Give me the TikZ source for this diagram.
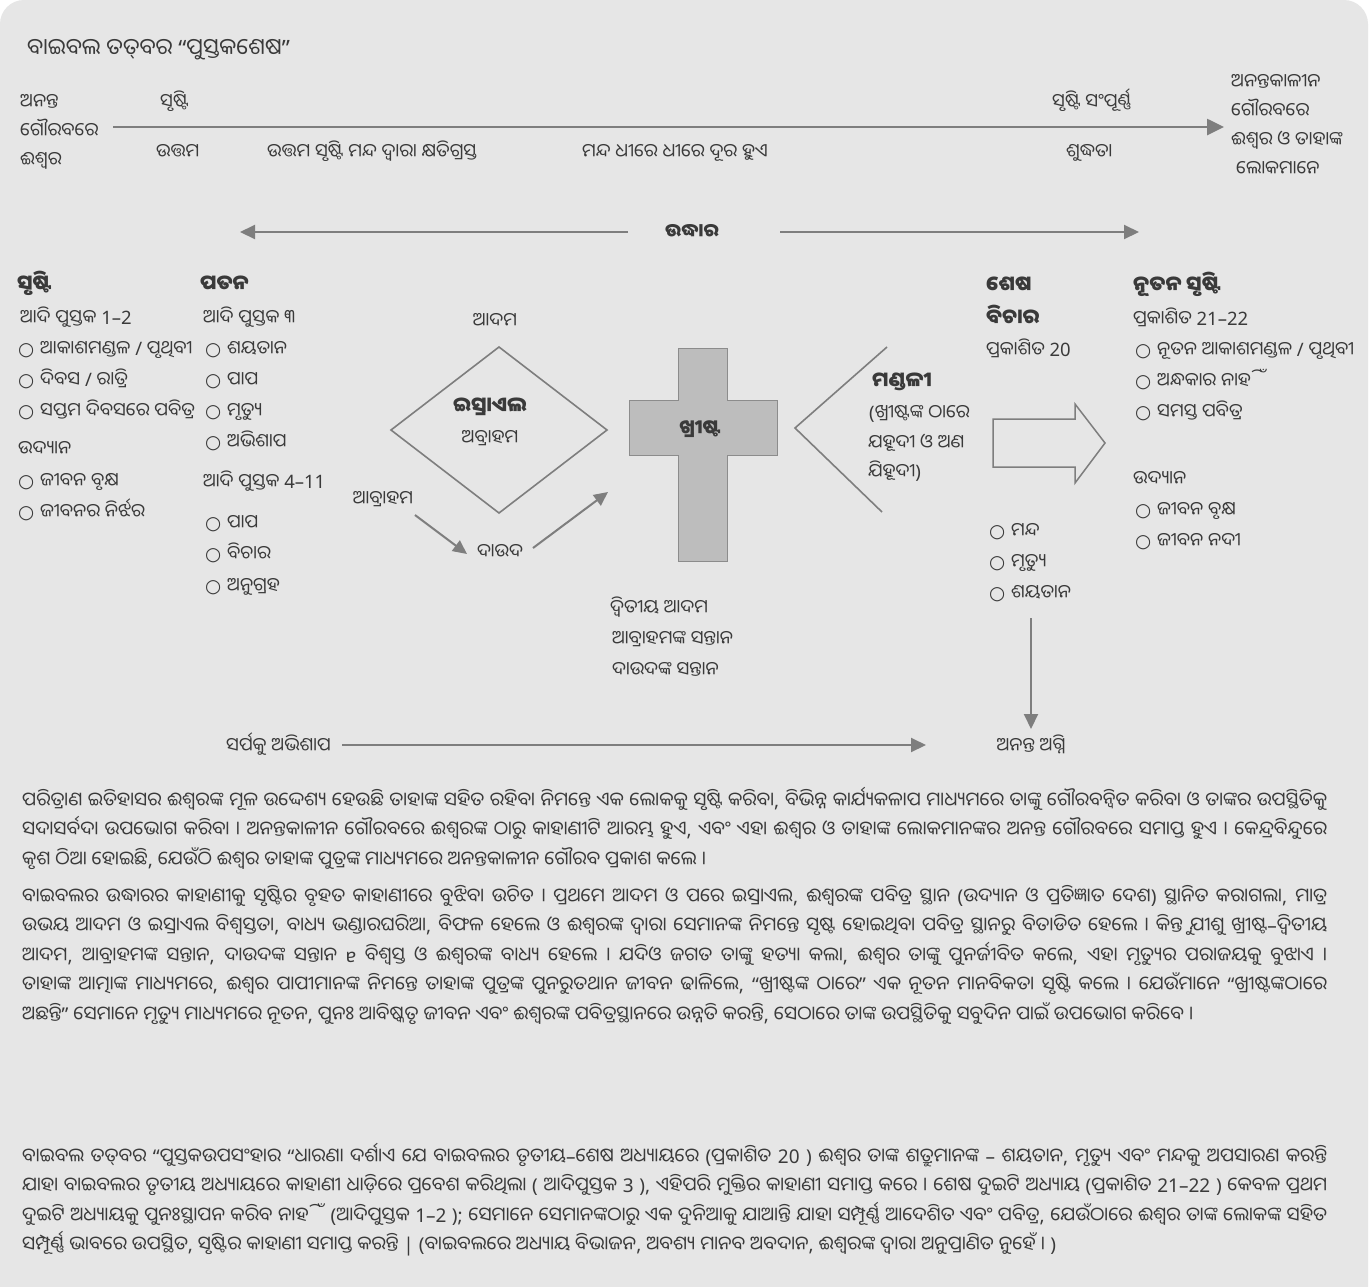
\documentclass[tikz,border=0pt]{standalone}
\usepackage{fontspec}
\usetikzlibrary{arrows.meta}
\setmainfont{Noto Sans}
\newfontfamily\odia[Script=Oriya]{Noto Sans Oriya UI}
\newfontfamily\lat{Noto Sans}
\newfontfamily\dejavu{DejaVu Sans}
\XeTeXinterchartokenstate=1
\newXeTeXintercharclass\OdiaClass
\newXeTeXintercharclass\BulClass
\newcount\odc
\odc="0B00
\loop
  \XeTeXcharclass\odc=\OdiaClass
  \ifnum\odc<"0B7F \advance\odc by 1
\repeat
\XeTeXcharclass"0964=\OdiaClass
\XeTeXcharclass"0965=\OdiaClass
\XeTeXcharclass"200C=\OdiaClass
\XeTeXcharclass"200D=\OdiaClass
\XeTeXcharclass"25CB=\BulClass
\XeTeXinterchartoks 0 \OdiaClass = {\odia}
\XeTeXinterchartoks 4095 \OdiaClass = {\odia}
\XeTeXinterchartoks \OdiaClass 0 = {\lat}
\XeTeXinterchartoks 4095 0 = {\lat}
\XeTeXinterchartoks 4095 \BulClass = {\dejavu}
\XeTeXinterchartoks 0 \BulClass = {\dejavu}
\XeTeXinterchartoks \OdiaClass \BulClass = {\dejavu}
\XeTeXinterchartoks \BulClass 0 = {\lat}
\XeTeXinterchartoks \BulClass \OdiaClass = {\odia}
\definecolor{txt}{HTML}{3A3A3A}
\definecolor{ln}{HTML}{7E7E7E}
\definecolor{bg}{HTML}{E6E6E6}
\definecolor{crossfill}{HTML}{BDBDBD}
\definecolor{crossedge}{HTML}{8C8C8C}
\tikzset{
  lbl/.style={anchor=base west, inner sep=0pt, text=txt, font=\fontsize{18.5}{22}\selectfont},
  lblc/.style={lbl, anchor=base},
  hd/.style={lbl, font=\fontsize{20.5}{24}\selectfont\bfseries},
  hdc/.style={hd, anchor=base},
  arr/.style={draw=ln, line width=2pt, -{Triangle[length=15pt,width=14pt]}},
  shapeline/.style={draw=ln, line width=1.6pt, line join=miter},
  para/.style={anchor=base west, inner sep=0pt, text=txt, text width=1305pt, align=justify, font=\fontsize{19}{29.6}\selectfont},
}
\begin{document}
\begin{tikzpicture}[x=1pt,y=-1pt]
\useasboundingbox (0,0) rectangle (1369,1286);
\fill[white] (0,0) rectangle (1369,1286);
\fill[bg, rounded corners=24pt] (0,0) rectangle (1368,1330);

% title
\node[lbl, font=\fontsize{22.5}{26}\selectfont] (title) at (27,56) {ବାଇବଲ ତତ୍^^^^200cବର “ପୁସ୍ତକଶେଷ”};

% timeline
\node[lbl] (tl1) at (20,108) {ଅନନ୍ତ};
\node[lbl] (tl2) at (20,137) {ଗୌରବରେ};
\node[lbl] (tl3) at (20,166) {ଈଶ୍ୱର};
\node[lbl] (cre) at (160,108) {ସୃଷ୍ଟି};
\node[lbl] (good) at (156,158) {ଉତ୍ତମ};
\node[lbl] (damaged) at (267,158) {ଉତ୍ତମ ସୃଷ୍ଟି ମନ୍ଦ ଦ୍ୱାରା କ୍ଷତିଗ୍ରସ୍ତ};
\node[lbl] (removed) at (582,158) {ମନ୍ଦ ଧୀରେ ଧୀରେ ଦୂର ହୁଏ};
\node[lbl] (complete) at (1052,108) {ସୃଷ୍ଟି ସଂପୂର୍ଣ୍ଣ};
\node[lbl] (purity) at (1066,158) {ଶୁଦ୍ଧତା};
\node[lbl] (tr1) at (1231,88) {ଅନନ୍ତକାଳୀନ};
\node[lbl] (tr2) at (1231,117) {ଗୌରବରେ};
\node[lbl] (tr3) at (1231,146) {ଈଶ୍ୱର ଓ ତାହାଙ୍କ};
\node[lbl] (tr4) at (1236,175) {ଲୋକମାନେ};
\coordinate (tlA) at (113,127);
\coordinate (tlB) at (1224,127);
\draw[arr, line width=2.6pt, -{Triangle[length=17pt,width=16pt]}] (tlA) -- (tlB);

% redemption
\node[hdc, font=\fontsize{18.5}{22}\selectfont\bfseries] (red) at (692,238) {ଉଦ୍ଧାର};
\coordinate (redL) at (240,232);
\coordinate (redR) at (1139,232);
\coordinate (redLs) at (628,232);
\coordinate (redRs) at (780,232);
\draw[arr] (redLs) -- (redL);
\draw[arr] (redRs) -- (redR);

% creation column
\node[hd] (h1) at (17,291) {ସୃଷ୍ଟି};
\node[lbl] (c1) at (20,324) {ଆଦି ପୁସ୍ତକ 1–2};
\node[lbl] (c2) at (18,355) {○ ଆକାଶମଣ୍ଡଳ / ପୃଥିବୀ};
\node[lbl] (c3) at (18,386) {○ ଦିବସ / ରାତ୍ରି};
\node[lbl] (c4) at (18,417) {○ ସପ୍ତମ ଦିବସରେ ପବିତ୍ର};
\node[lbl] (c5) at (18,455) {ଉଦ୍ୟାନ};
\node[lbl] (c6) at (18,487) {○ ଜୀବନ ବୃକ୍ଷ};
\node[lbl] (c7) at (18,518) {○ ଜୀବନର ନିର୍ଝର};

% fall column
\node[hd] (h2) at (200,291) {ପତନ};
\node[lbl] (f1) at (203,324) {ଆଦି ପୁସ୍ତକ ୩};
\node[lbl] (f2) at (205,355) {○ ଶୟତାନ};
\node[lbl] (f3) at (205,386) {○ ପାପ};
\node[lbl] (f4) at (205,417) {○ ମୃତ୍ୟୁ};
\node[lbl] (f5) at (205,448) {○ ଅଭିଶାପ};
\node[lbl] (f6) at (203,488) {ଆଦି ପୁସ୍ତକ 4–11};
\node[lbl] (f7) at (205,529) {○ ପାପ};
\node[lbl] (f8) at (205,560) {○ ବିଚାର};
\node[lbl] (f9) at (205,592) {○ ଅନୁଗ୍ରହ};

% israel diamond
\node[lblc] (adam) at (495,327) {ଆଦମ};
\draw[shapeline] (499,347) -- (607,430) -- (499,513) -- (391,430) -- cycle;
\node[hdc] (isr) at (490,413) {ଇସ୍ରାଏଲ};
\node[lblc] (abr1) at (490,444) {ଅବ୍ରାହମ};
\node[lblc] (abr2) at (383,505) {ଆବ୍ରାହମ};
\node[lblc] (dav) at (500,558) {ଦାଉଦ};
\coordinate (a1s) at (415,515);
\coordinate (a1e) at (467,554);
\coordinate (a2s) at (533,548);
\coordinate (a2e) at (608,492);
\draw[arr, -{Triangle[length=14pt,width=13pt]}] (a1s) -- (a1e);
\draw[arr, -{Triangle[length=14pt,width=13pt]}] (a2s) -- (a2e);

% cross
\draw[fill=crossfill, draw=crossedge, line width=1pt] (678,348) -- (727,348) -- (727,400) -- (777,400) -- (777,455) -- (727,455) -- (727,561) -- (678,561) -- (678,455) -- (629,455) -- (629,400) -- (678,400) -- cycle;
\node[hdc, font=\fontsize{19.5}{23}\selectfont\bfseries] (christ) at (700,435) {ଖ୍ରୀଷ୍ଟ};
\node[lbl] (x1) at (610,614) {ଦ୍ୱିତୀୟ ଆଦମ};
\node[lbl] (x2) at (612,645) {ଆବ୍ରାହମଙ୍କ ସନ୍ତାନ};
\node[lbl] (x3) at (612,676) {ଦାଉଦଙ୍କ ସନ୍ତାନ};

% church chevron
\draw[shapeline] (887,347) -- (795,428) -- (882,512);
\node[hd] (church) at (872,388) {ମଣ୍ଡଳୀ};
\node[lbl] (ch1) at (869,419) {(ଖ୍ରୀଷ୍ଟଙ୍କ ଠାରେ};
\node[lbl] (ch2) at (868,449) {ଯହୂଦୀ ଓ ଅଣ};
\node[lbl] (ch3) at (868,478) {ଯିହୂଦୀ)};

% final judgment
\node[hd] (j1) at (986,292) {ଶେଷ};
\node[hd] (j2) at (986,325) {ବିଚାର};
\node[lbl] (j3) at (986,356) {ପ୍ରକାଶିତ 20};
\node[lbl] (e1) at (989,537) {○ ମନ୍ଦ};
\node[lbl] (e2) at (989,568) {○ ମୃତ୍ୟୁ};
\node[lbl] (e3) at (989,599) {○ ଶୟତାନ};

% block arrow
\draw[shapeline, line width=1.5pt] (993,419) -- (1075,419) -- (1075,404) -- (1105,443) -- (1075,483) -- (1075,467) -- (993,467) -- cycle;

% new creation
\node[hd] (n0) at (1133,292) {ନୂତନ ସୃଷ୍ଟି};
\node[lbl] (n1) at (1133,325) {ପ୍ରକାଶିତ 21–22};
\node[lbl] (n2) at (1135,356) {○ ନୂତନ ଆକାଶମଣ୍ଡଳ / ପୃଥିବୀ};
\node[lbl] (n3) at (1135,387) {○ ଅନ୍ଧକାର ନାହିଁ};
\node[lbl] (n4) at (1135,418) {○ ସମସ୍ତ ପବିତ୍ର};
\node[lbl] (n5) at (1133,485) {ଉଦ୍ୟାନ};
\node[lbl] (n6) at (1135,516) {○ ଜୀବନ ବୃକ୍ଷ};
\node[lbl] (n7) at (1135,547) {○ ଜୀବନ ନଦୀ};

% bottom
\node[lblc] (fire) at (1031,752) {ଅନନ୍ତ ଅଗ୍ନି};
\node[lbl] (curse) at (226,752) {ସର୍ପକୁ ଅଭିଶାପ};
\coordinate (dA) at (1031,618);
\coordinate (dB) at (1031,729);
\draw[arr] (dA) -- (dB);
\coordinate (bA) at (342,745);
\coordinate (bB) at (926,745);
\draw[arr] (bA) -- (bB);

% paragraphs
\node[para] (p1) at (22,807) {ପରିତ୍ରାଣ ଇତିହାସର ଈଶ୍ୱରଙ୍କ ମୂଳ ଉଦ୍ଦେଶ୍ୟ ହେଉଛି ତାହାଙ୍କ ସହିତ ରହିବା ନିମନ୍ତେ ଏକ ଲୋକକୁ ସୃଷ୍ଟି କରିବା, ବିଭିନ୍ନ କାର୍ଯ୍ୟକଳାପ ମାଧ୍ୟମରେ ତାଙ୍କୁ ଗୌରବନ୍ୱିତ କରିବା ଓ ତାଙ୍କର ଉପସ୍ଥିତିକୁ\linebreak ସଦାସର୍ବଦା ଉପଭୋଗ କରିବା । ଅନନ୍ତକାଳୀନ ଗୌରବରେ ଈଶ୍ୱରଙ୍କ ଠାରୁ କାହାଣୀଟି ଆରମ୍ଭ ହୁଏ, ଏବଂ ଏହା ଈଶ୍ୱର ଓ ତାହାଙ୍କ ଲୋକମାନଙ୍କର ଅନନ୍ତ ଗୌରବରେ ସମାପ୍ତ ହୁଏ । କେନ୍ଦ୍ରବିନ୍ଦୁରେ\linebreak କୃଶ ଠିଆ ହୋଇଛି, ଯେଉଁଠି ଈଶ୍ୱର ତାହାଙ୍କ ପୁତ୍ରଙ୍କ ମାଧ୍ୟମରେ ଅନନ୍ତକାଳୀନ ଗୌରବ ପ୍ରକାଶ କଲେ ।};

\node[para] (p2) at (22,903) {ବାଇବଲର ଉଦ୍ଧାରର କାହାଣୀକୁ ସୃଷ୍ଟିର ବୃହତ କାହାଣୀରେ ବୁଝିବା ଉଚିତ । ପ୍ରଥମେ ଆଦମ ଓ ପରେ ଇସ୍ରାଏଲ, ଈଶ୍ୱରଙ୍କ ପବିତ୍ର ସ୍ଥାନ (ଉଦ୍ୟାନ ଓ ପ୍ରତିଜ୍ଞାତ ଦେଶ) ସ୍ଥାନିତ କରାଗଲା, ମାତ୍ର\linebreak ଉଭୟ ଆଦମ ଓ ଇସ୍ରାଏଲ ବିଶ୍ୱସ୍ତତା, ବାଧ୍ୟ ଭଣ୍ଡାରଘରିଆ, ବିଫଳ ହେଲେ ଓ ଈଶ୍ୱରଙ୍କ ଦ୍ୱାରା ସେମାନଙ୍କ ନିମନ୍ତେ ସୃଷ୍ଟ ହୋଇଥିବା ପବିତ୍ର ସ୍ଥାନରୁ ବିତାଡିତ ହେଲେ । କିନ୍ତୁ ଯୀଶୁ ଖ୍ରୀଷ୍ଟ–ଦ୍ୱିତୀୟ\linebreak ଆଦମ, ଆବ୍ରାହମଙ୍କ ସନ୍ତାନ, ଦାଉଦଙ୍କ ସନ୍ତାନ {\bfseries ɐ} ବିଶ୍ୱସ୍ତ ଓ ଈଶ୍ୱରଙ୍କ ବାଧ୍ୟ ହେଲେ । ଯଦିଓ ଜଗତ ତାଙ୍କୁ ହତ୍ୟା କଲା, ଈଶ୍ୱର ତାଙ୍କୁ ପୁନର୍ଜୀବିତ କଲେ, ଏହା ମୃତ୍ୟୁର ପରାଜୟକୁ ବୁଝାଏ ।\linebreak ତାହାଙ୍କ ଆତ୍ମାଙ୍କ ମାଧ୍ୟମରେ, ଈଶ୍ୱର ପାପୀମାନଙ୍କ ନିମନ୍ତେ ତାହାଙ୍କ ପୁତ୍ରଙ୍କ ପୁନରୁତଥାନ ଜୀବନ ଢାଳିଲେ, “ଖ୍ରୀଷ୍ଟଙ୍କ ଠାରେ” ଏକ ନୂତନ ମାନବିକତା ସୃଷ୍ଟି କଲେ । ଯେଉଁମାନେ “ଖ୍ରୀଷ୍ଟଙ୍କଠାରେ\linebreak ଅଛନ୍ତି” ସେମାନେ ମୃତ୍ୟୁ ମାଧ୍ୟମରେ ନୂତନ, ପୁନଃ ଆବିଷ୍କୃତ ଜୀବନ ଏବଂ ଈଶ୍ୱରଙ୍କ ପବିତ୍ରସ୍ଥାନରେ ଉନ୍ନତି କରନ୍ତି, ସେଠାରେ ତାଙ୍କ ଉପସ୍ଥିତିକୁ ସବୁଦିନ ପାଇଁ ଉପଭୋଗ କରିବେ ।};

\node[para] (p3) at (22,1163) {ବାଇବଲ ତତ୍^^^^200cବର “ପୁସ୍ତକଉପସଂହାର “ଧାରଣା ଦର୍ଶାଏ ଯେ ବାଇବଲର ତୃତୀୟ–ଶେଷ ଅଧ୍ୟାୟରେ (ପ୍ରକାଶିତ 20 ) ଈଶ୍ୱର ତାଙ୍କ ଶତ୍ରୁମାନଙ୍କ – ଶୟତାନ, ମୃତ୍ୟୁ ଏବଂ ମନ୍ଦକୁ ଅପସାରଣ କରନ୍ତି\linebreak ଯାହା ବାଇବଲର ତୃତୀୟ ଅଧ୍ୟାୟରେ କାହାଣୀ ଧାଡ଼ିରେ ପ୍ରବେଶ କରିଥିଲା ( ଆଦିପୁସ୍ତକ 3 ), ଏହିପରି ମୁକ୍ତିର କାହାଣୀ ସମାପ୍ତ କରେ । ଶେଷ ଦୁଇଟି ଅଧ୍ୟାୟ (ପ୍ରକାଶିତ 21–22 ) କେବଳ ପ୍ରଥମ\linebreak ଦୁଇଟି ଅଧ୍ୟାୟକୁ ପୁନଃସ୍ଥାପନ କରିବ ନାହିଁ (ଆଦିପୁସ୍ତକ 1–2 ); ସେମାନେ ସେମାନଙ୍କଠାରୁ ଏକ ଦୁନିଆକୁ ଯାଆନ୍ତି ଯାହା ସମ୍ପୂର୍ଣ୍ଣ ଆଦେଶିତ ଏବଂ ପବିତ୍ର, ଯେଉଁଠାରେ ଈଶ୍ୱର ତାଙ୍କ ଲୋକଙ୍କ ସହିତ\linebreak ସମ୍ପୂର୍ଣ୍ଣ ଭାବରେ ଉପସ୍ଥିତ, ସୃଷ୍ଟିର କାହାଣୀ ସମାପ୍ତ କରନ୍ତି | (ବାଇବଲରେ ଅଧ୍ୟାୟ ବିଭାଜନ, ଅବଶ୍ୟ ମାନବ ଅବଦାନ, ଈଶ୍ୱରଙ୍କ ଦ୍ୱାରା ଅନୁପ୍ରାଣିତ ନୁହେଁ । )};
\end{tikzpicture}
\end{document}
